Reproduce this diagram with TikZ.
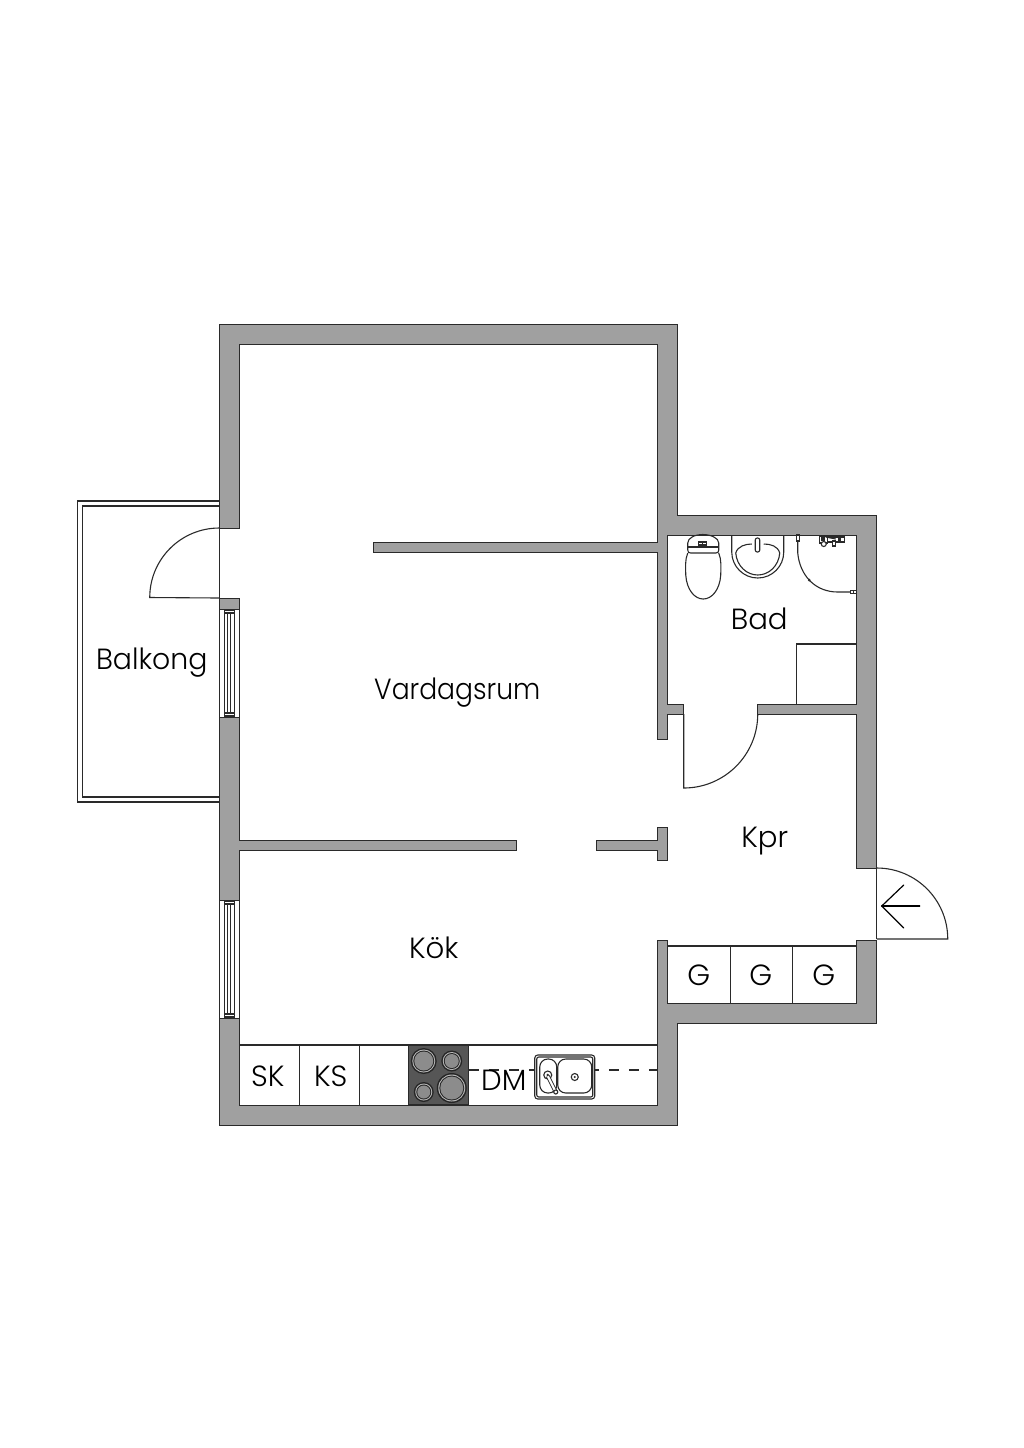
\documentclass[tikz,border=0pt]{standalone}
\usepackage{fontspec}
\setmainfont{Poppins}[UprightFont=* Light]
\definecolor{wallgray}{HTML}{A0A0A0}
\definecolor{linegray}{HTML}{2A2A2A}
\definecolor{hobgray}{HTML}{565656}
\definecolor{plategray}{HTML}{8C8C8C}
\tikzset{
	wall/.style={fill=wallgray, draw=linegray, line width=0.5pt, line join=miter},
	fixture/.style={draw=linegray, line width=0.55pt},
	roomlabel/.style={font=\fontsize{14.6}{18}\selectfont, text=black, inner sep=0pt, anchor=base}
}

\begin{document}
\begin{tikzpicture}[x=0.5pt,y=-0.5pt]
	\useasboundingbox (0.25,0) rectangle (1024.25,1448);

	% balcony
	\draw[fixture] (219.5,501) -- (78,501) -- (78,802) -- (219.5,802);
	\draw[fixture] (219.5,506) -- (83,506) -- (83,797) -- (219.5,797);

	% walls
	\draw[wall] (220,528) -- (220,324) -- (678,324) -- (678,515) -- (877,515) -- (877,868) -- (857,868) -- (857,714) -- (758,714) -- (758,704) -- (857,704) -- (857,535) -- (668,535) -- (668,704) -- (684,704) -- (684,714) -- (668,714) -- (668,739) -- (658,739) -- (658,552) -- (374,552) -- (374,542) -- (658,542) -- (658,344) -- (240,344) -- (240,528) -- cycle;
	\draw[wall] (658,940) -- (668,940) -- (668,1003) -- (857,1003) -- (857,940) -- (877,940) -- (877,1023) -- (678,1023) -- (678,1125) -- (220,1125) -- (220,1018) -- (240,1018) -- (240,1105) -- (658,1105) -- cycle;
	\draw[wall] (220,717) -- (240,717) -- (240,840) -- (517,840) -- (517,850) -- (240,850) -- (240,900) -- (220,900) -- cycle;
	\draw[wall] (220,598) -- (240,598) -- (240,609) -- (220,609) -- cycle;
	\draw[wall] (597,840) -- (658,840) -- (658,827) -- (668,827) -- (668,860) -- (658,860) -- (658,850) -- (597,850) -- cycle;

	% windows
	\foreach \ya/\yb in {609/717,900/1018} {
		\draw[fixture] (220,\ya) -- (220,\yb);
		\draw[fixture] (240,\ya) -- (240,\yb);
		\draw[fixture] (224.5,\ya+1) rectangle (234.5,\yb-1);
		\draw[fixture] (228,\ya+4) rectangle (231,\yb-4);
		\draw[fixture] (224.5,\ya+4) -- (234.5,\ya+4);
		\draw[fixture] (224.5,\yb-4) -- (234.5,\yb-4);
	}

	% doors
	\draw[fixture] (219.5,528) -- (219.5,598);
	\draw[fixture] (219.5,528) arc (-90:-180:69.5) -- (219.5,598);
	\draw[fixture] (758,714) arc (0:90:74) -- (684,714);
	\draw[fixture] (877,868) -- (877,939);
	\draw[fixture] (877,868) arc (-90:0:71) -- (877,939);
	\draw[line width=0.6pt, line cap=round] (920,906) -- (882,906);
	\draw[line width=0.6pt, line cap=round] (904,885) -- (882,906) -- (904,928);

	% closets
	\draw[fixture] (668,946) -- (857,946);
	\draw[fixture] (731,946) -- (731,1003);
	\draw[fixture] (793,946) -- (793,1003);

	% kitchen counter
	\draw[fixture] (240,1045) -- (658,1045);
	\draw[fixture] (300,1045) -- (300,1105);
	\draw[fixture] (360,1045) -- (360,1105);
	\draw[fixture, dash pattern=on 5pt off 5pt] (469,1070) -- (658,1070);
	\draw[fixture, fill=hobgray] (409,1045) rectangle (469,1105);
	\foreach \cx/\cy/\r in {424/1061/13,452/1061/10.5,424/1092/10,452/1088/15} {
		\fill[black!85] (\cx,\cy) circle (\r);
		\fill[plategray!60!white] (\cx,\cy) circle (\r-1.5);
		\fill[black!85] (\cx,\cy) circle (\r-2.5);
		\fill[plategray] (\cx,\cy) circle (\r-3.5);
	}

	% sink
	\draw[fixture, fill=white, rounded corners=1.5pt] (535,1055) rectangle (595,1099);
	\draw[fixture, rounded corners=1pt] (537,1057) rectangle (593,1097);
	\draw[fixture, rounded corners=4pt] (540,1059) rectangle (557,1093);
	\draw[fixture, rounded corners=4pt] (558,1059) rectangle (592,1093);
	\draw[fixture] (575,1077) circle (3.5);
	\fill[linegray] (575,1077) circle (1.2);
	\draw[fixture] (548,1075) circle (4);
	\draw[draw=linegray, line width=2pt] (548,1076) -- (556,1092);
	\draw[draw=white, line width=1.1pt] (548,1076) -- (556,1092);
	\draw[fixture, fill=white] (556,1092) circle (2);
	\fill[linegray] (548,1075) circle (1.3);

	% toilet
	\draw[fixture] (688,543) .. controls (688,538) and (695,534.5) .. (703,534.5) .. controls (711,534.5) and (719,538) .. (719,543) -- (719,550) .. controls (719,552) and (718,553) .. (716,553) -- (691,553) .. controls (689,553) and (688,552) .. (688,550) -- cycle;
	\draw[fixture] (688,547) -- (719,547);
	\draw[fixture] (699,542) rectangle (707,545);
	\draw[fixture] (703,542) -- (703,545);
	\draw[fixture] (688,553) .. controls (685,560) and (686,568) .. (686,575) .. controls (687,590) and (695,599) .. (703.5,599) .. controls (712,599) and (720,590) .. (721,575) .. controls (721,568) and (722,560) .. (719,553);

	% washbasin
	\draw[fixture] (732,535) -- (732,552) arc (180:0:26) -- (784,535);
	\draw[fixture] (736,553) .. controls (738,546) and (746,544) .. (752,544);
	\draw[fixture] (764,544) .. controls (771,544) and (778,546) .. (780,553);
	\draw[fixture] (736,553) .. controls (737,566) and (747,575) .. (758,575) .. controls (769,575) and (779,566) .. (780,553);
	\draw[fixture, rounded corners=1pt] (755.5,538) rectangle (760,552);

	% shower
	\draw[fixture] (798,542) -- (798,553) .. controls (800,575) and (815,592) .. (838,592) -- (851,592);
	\draw[fixture] (797,535) rectangle (799.5,541);
	\draw[fixture] (851,590.5) rectangle (854,593.5);
	\draw[fixture] (854,590.5) rectangle (857,593.5);
	\fill[linegray] (809.5,580) circle (1.5);
	\draw[fixture] (820,536) rectangle (828,543);
	\draw[fixture] (828,537) rectangle (845,542);
	\draw[fixture, fill=white] (833,541) rectangle (836,546);
	\draw[fixture, fill=white] (824,544) circle (2.5);
	\draw[fixture] (826,537) -- (836,539);
	\fill[linegray] (821,536) rectangle (825,541);
	\fill[linegray] (838,537) rectangle (841,541);

	% washing machine box
	\draw[fixture] (797,704) -- (797,644) -- (857,644);

	% labels
	\node[roomlabel] (vardagsrum) at (457.5,699) {\scalebox{0.91}[1]{Vardagsrum}};
	\node[roomlabel] (balkong) at (152,669) {\scalebox{0.97}[1]{Balkong}};
	\node[roomlabel] (bad) at (759.5,629) {Bad};
	\node[roomlabel] (kpr) at (765,847) {Kpr};
	\node[roomlabel] (kok) at (434,958) {Kök};
	\node[roomlabel] (gleft) at (699,985) {G};
	\node[roomlabel] (gmid) at (761,985) {G};
	\node[roomlabel] (gright) at (824,985) {G};
	\node[roomlabel] (sk) at (268,1086) {SK};
	\node[roomlabel] (ks) at (331,1086) {KS};
	\node[roomlabel] (dm) at (504,1090) {DM};
\end{tikzpicture}
\end{document}
